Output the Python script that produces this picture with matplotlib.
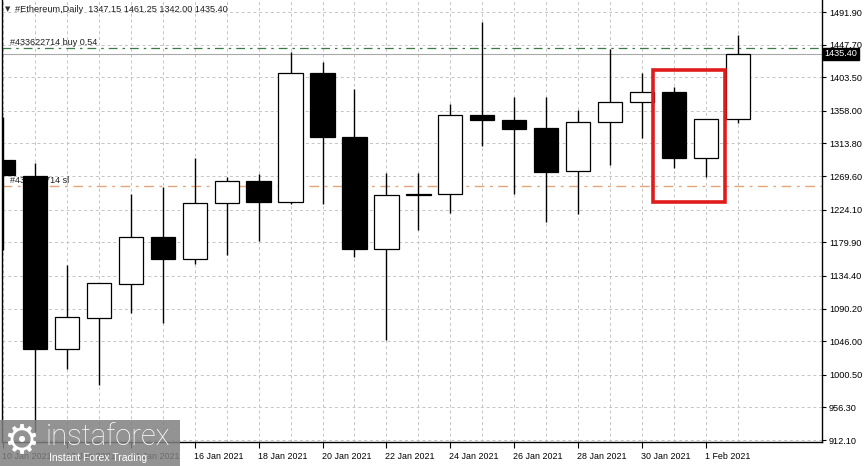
import numpy as np
import matplotlib
matplotlib.use('Agg')
import matplotlib.pyplot as plt
import matplotlib.patches as patches
import matplotlib.transforms as mtransforms

plt.rcParams['font.family'] = ['Liberation Sans', 'DejaVu Sans']

# Datos diarios de Ethereum (10 Jan 2021 - 2 Feb 2021)
dias = ["10 Jan 2021", "11 Jan 2021", "12 Jan 2021", "13 Jan 2021", "14 Jan 2021",
        "15 Jan 2021", "16 Jan 2021", "17 Jan 2021", "18 Jan 2021", "19 Jan 2021",
        "20 Jan 2021", "21 Jan 2021", "22 Jan 2021", "23 Jan 2021", "24 Jan 2021",
        "25 Jan 2021", "26 Jan 2021", "27 Jan 2021", "28 Jan 2021", "29 Jan 2021",
        "30 Jan 2021", "31 Jan 2021", "1 Feb 2021", "2 Feb 2021"]
apertura = [1291.4, 1269.7, 1035.4, 1077.8, 1123.8, 1186.7, 1157.3, 1232.7, 1263.4, 1234.1,
            1409.7, 1323.0, 1170.4, 1244.4, 1245.3, 1352.4, 1346.0, 1334.3, 1276.1, 1342.9,
            1370.0, 1383.9, 1294.5, 1347.15]
maximo = [1349.7, 1287.3, 1149.2, 1125.2, 1244.9, 1254.4, 1293.7, 1268.8, 1272.0, 1438.1,
          1424.6, 1387.6, 1274.2, 1274.2, 1367.3, 1478.8, 1377.2, 1376.3, 1359.1, 1441.4,
          1408.9, 1390.7, 1346.9, 1461.25]
minimo = [1169.5, 922.9, 1008.3, 986.6, 1084.5, 1071.0, 1150.1, 1162.7, 1182.1, 1231.4,
          1231.4, 1159.6, 1047.6, 1196.6, 1219.2, 1310.4, 1245.3, 1207.0, 1218.3, 1284.6,
          1321.6, 1281.0, 1268.0, 1342.00]
cierre = [1271.1, 1035.4, 1078.7, 1124.4, 1186.7, 1157.3, 1233.6, 1263.4, 1234.1, 1408.9,
          1322.2, 1170.4, 1244.4, 1245.6, 1352.0, 1345.2, 1333.4, 1274.7, 1342.9, 1370.0,
          1383.5, 1294.5, 1347.1, 1435.40]

# Escala de precios del eje derecho
niveles = [1491.90, 1447.70, 1403.50, 1358.00, 1313.80, 1269.60, 1224.10, 1179.90,
           1134.40, 1090.20, 1046.00, 1000.50, 956.30, 912.10]

# Lineas de ordenes
precio_buy = 1443.0
precio_sl = 1256.6
precio_actual = 1435.40
texto_buy = "#433622714 buy 0.54"
texto_sl = "#433622714 sl"

# Velas marcadas con el rectangulo rojo
marcadas = [21, 22]

W, H = 868, 466
fig = plt.figure(figsize=(W / 100, H / 100), dpi=100)
ax = fig.add_axes([2 / W, 24 / H, 820 / W, 442 / H])

x = np.arange(len(dias))
o = np.array(apertura)
c = np.array(cierre)
alcista = c >= o
relleno = np.where(alcista, 'white', 'black')
base = np.minimum(o, c)
altura = np.maximum(np.abs(c - o), 1.2)

ax.vlines(x, minimo, maximo, color='black', lw=1, zorder=3)
ax.bar(x, altura, bottom=base, width=0.76, color=relleno, edgecolor='black',
       linewidth=0.9, zorder=4)

# Lineas horizontales
ax.axhline(precio_buy, color='#3d7a48', lw=0.9, ls=(0, (7, 4, 2, 4)), zorder=2)
ax.axhline(precio_actual, color='#a8a8a8', lw=0.8, zorder=2)
ax.axhline(precio_sl, color='#e3a57a', lw=1.0, ls=(0, (7, 4, 2, 4)), zorder=2)
ax.text(0.22, precio_buy + 4, texto_buy, fontsize=6.5, color='#202020', zorder=1)
ax.text(0.22, precio_sl + 4, texto_sl, fontsize=6.5, color='#202020', zorder=1)

# Rectangulo rojo alrededor de las dos velas
izq = marcadas[0] - 0.66
der = marcadas[-1] + 0.59
abajo = min(minimo[i] for i in marcadas) - 34
arriba = max(maximo[i] for i in marcadas) + 22
ax.add_patch(patches.Rectangle((izq, abajo), der - izq, arriba - abajo, fill=False,
                               edgecolor='#e01b1b', lw=2.6, zorder=6))

ax.set_xlim(-0.03, 25.63)
ax.set_ylim(909.4, 1508.2)

# Ejes
ax.yaxis.tick_right()
ax.set_yticks(niveles)
ax.set_yticklabels([f"{v:.2f}" for v in niveles])
ax.set_xticks(x[::2])
ax.set_xticklabels(dias[::2], ha='left')
ax.set_xticks(x[1::2], minor=True)
ax.tick_params(axis='y', which='major', direction='out', length=3, width=0.8,
               labelsize=6.6, pad=2, colors='black')
ax.tick_params(axis='x', which='major', direction='out', length=4, width=0.8,
               labelsize=6.4, pad=3)
ax.tick_params(axis='x', which='minor', length=0)
offset = mtransforms.ScaledTranslation(-1 / 100, 0, fig.dpi_scale_trans)
for lab in ax.get_xticklabels():
    lab.set_transform(lab.get_transform() + offset)

ax.grid(True, which='both', axis='x', color='#c4c4c4', lw=0.7, ls=(0, (3, 3)), zorder=0)
ax.grid(True, which='major', axis='y', color='#c4c4c4', lw=0.7, ls=(0, (3, 3)), zorder=0)
ax.set_axisbelow(True)
for lado in ['left', 'right', 'bottom']:
    ax.spines[lado].set_color('black')
    ax.spines[lado].set_linewidth(1)
ax.spines['top'].set_visible(False)

# Etiqueta del precio actual en el eje
tr = mtransforms.blended_transform_factory(ax.transAxes, ax.transData)
ax.text(1.003, precio_actual, f"{precio_actual:.2f}", transform=tr, fontsize=6.6,
        color='white', va='center', ha='left', zorder=7, clip_on=False,
        bbox=dict(boxstyle='square,pad=0.18', fc='black', ec='black'))

# Encabezado
fig.text(5 / W, 1 - 9 / H, "\u25bc", fontsize=5, va='center', color='#303030',
         family='DejaVu Sans')
fig.text(15 / W, 1 - 9 / H, "#Ethereum,Daily  1347.15 1461.25 1342.00 1435.40",
         fontsize=6.6, va='center', color='#202020')

# Logo
fig.patches.append(patches.Rectangle((0, 0), 180 / W, 46 / H, transform=fig.transFigure,
                                     fc='#808080', ec='none', alpha=0.85, zorder=10))
fig.text(3 / W, 24 / H, "\u2699", fontsize=29, color='white', va='center',
         family='DejaVu Sans', zorder=11)
fig.text(46 / W, 29 / H, "instaforex", fontsize=21, color='white', va='center',
         family='Roboto', weight='light', zorder=11)
fig.text(49 / W, 8 / H, "Instant Forex Trading", fontsize=7.5, color='white', va='center',
         zorder=11)

plt.savefig('out.png', dpi=100)
